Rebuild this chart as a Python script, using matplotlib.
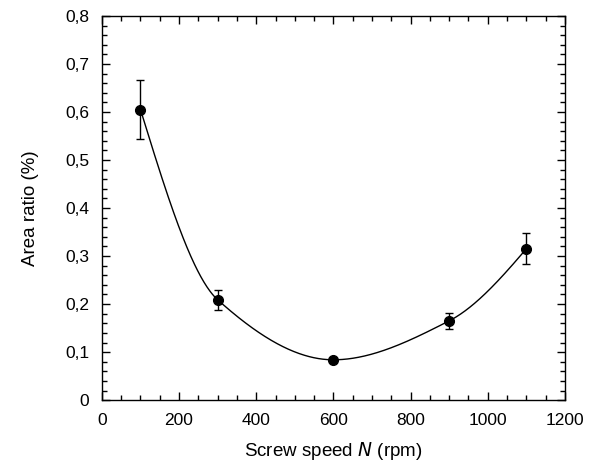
import numpy as np
import matplotlib
matplotlib.use("Agg")
import matplotlib.pyplot as plt
from matplotlib.ticker import MultipleLocator, FuncFormatter

speed = [100, 300, 600, 900, 1100]
area_ratio = [0.605, 0.209, 0.084, 0.165, 0.315]
error = [0.061, 0.021, 0.004, 0.017, 0.032]

plt.rcParams['font.family'] = ['Liberation Sans', 'DejaVu Sans']


def pchip(x, y, xs):
    x = np.asarray(x, float); y = np.asarray(y, float)
    h = np.diff(x); d = np.diff(y) / h
    n = len(x); m = np.zeros(n)
    for k in range(1, n - 1):
        if d[k - 1] * d[k] > 0:
            w1 = 2 * h[k] + h[k - 1]; w2 = h[k] + 2 * h[k - 1]
            m[k] = (w1 + w2) / (w1 / d[k - 1] + w2 / d[k])
    m[0] = ((2 * h[0] + h[1]) * d[0] - h[0] * d[1]) / (h[0] + h[1])
    if np.sign(m[0]) != np.sign(d[0]): m[0] = 0
    m[-1] = ((2 * h[-1] + h[-2]) * d[-1] - h[-1] * d[-2]) / (h[-1] + h[-2])
    if np.sign(m[-1]) != np.sign(d[-1]): m[-1] = 0
    idx = np.clip(np.searchsorted(x, xs) - 1, 0, n - 2)
    t = (xs - x[idx]) / h[idx]
    h00 = 2 * t**3 - 3 * t**2 + 1; h10 = t**3 - 2 * t**2 + t
    h01 = -2 * t**3 + 3 * t**2; h11 = t**3 - t**2
    return h00 * y[idx] + h10 * h[idx] * m[idx] + h01 * y[idx + 1] + h11 * h[idx] * m[idx + 1]


fig = plt.figure(figsize=(5.89, 4.68), dpi=100)
ax = fig.add_axes([0.173, 0.145, 0.786, 0.821])

xs = np.linspace(speed[0], speed[-1], 500)
ax.plot(xs, pchip(speed, area_ratio, xs), color='black', lw=1.0)
ax.errorbar(speed, area_ratio, yerr=error, fmt='o', color='black', ms=7,
            elinewidth=1.0, capsize=3, capthick=1.0)

ax.set_xlim(0, 1200)
ax.set_ylim(0, 0.8)
ax.xaxis.set_major_locator(MultipleLocator(200))
ax.xaxis.set_minor_locator(MultipleLocator(50))
ax.yaxis.set_major_locator(MultipleLocator(0.1))
ax.yaxis.set_minor_locator(MultipleLocator(0.02))
ax.yaxis.set_major_formatter(FuncFormatter(lambda v, p: ('%.1f' % v).replace('.', ',') if abs(v) > 1e-9 else '0'))
ax.tick_params(which='both', direction='in', top=True, right=True, labelsize=12.5, width=1)
ax.tick_params(which='major', length=6)
ax.tick_params(which='minor', length=3.5)
ax.tick_params(axis='x', which='major', pad=9)
ax.tick_params(axis='y', which='major', pad=9)
for s in ax.spines.values():
    s.set_linewidth(1)

ax.set_xlabel('Screw speed $\\it{N}$ (rpm)', fontsize=13.5, labelpad=9)
ax.set_ylabel('Area ratio (%)', fontsize=13.5, labelpad=19)

fig.savefig('out.png', dpi=100)
